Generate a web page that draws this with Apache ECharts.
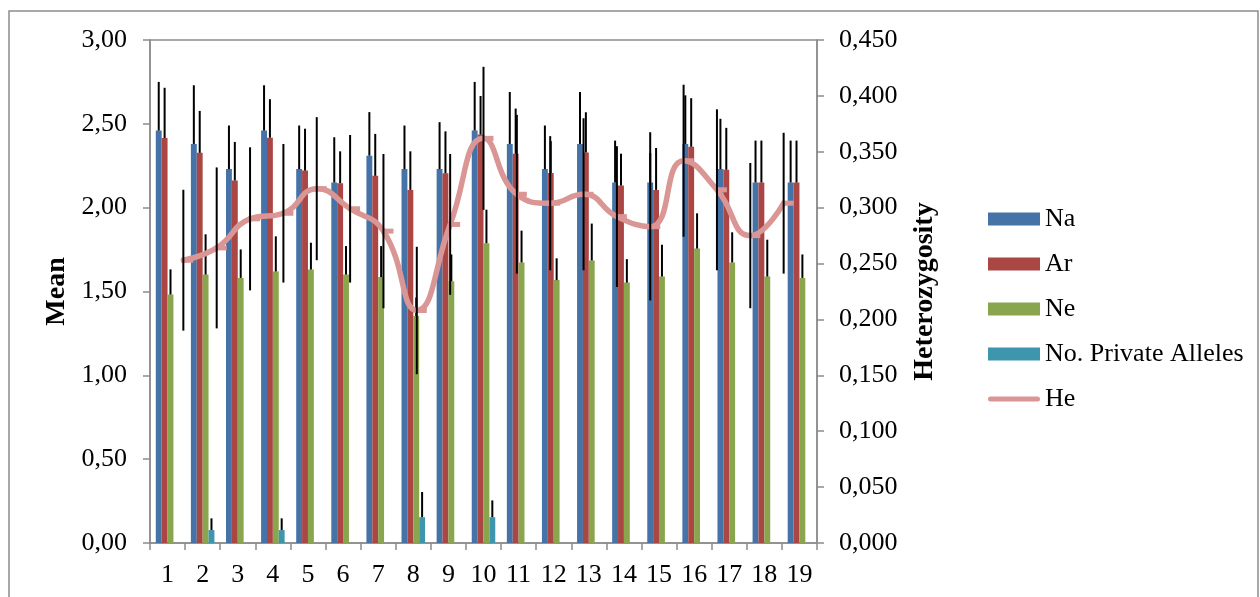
<!DOCTYPE html>
<html>
<head>
<meta charset="utf-8">
<script src="https://cdn.jsdelivr.net/npm/echarts@6.0.0/dist/echarts.min.js"></script>
<style>
  html, body { margin: 0; padding: 0; background: #fff; }
  #chart { width: 1260px; height: 597px; }
</style>
</head>
<body>
<div id="chart"></div>
<script>
// populations 1..19
const categories = ['1', '2', '3', '4', '5', '6', '7', '8', '9', '10', '11', '12', '13', '14', '15', '16', '17', '18', '19'];

const na = [2.46, 2.38, 2.23, 2.46, 2.23, 2.15, 2.31, 2.23, 2.23, 2.46, 2.38, 2.23, 2.38, 2.15, 2.15, 2.38, 2.23, 2.15, 2.15];
const naErr = [0.29, 0.35, 0.26, 0.27, 0.26, 0.27, 0.26, 0.26, 0.28, 0.29, 0.31, 0.26, 0.31, 0.25, 0.30, 0.29, 0.30, 0.25, 0.25];

const ar = [2.415, 2.327, 2.162, 2.417, 2.221, 2.146, 2.19, 2.106, 2.205, 2.436, 2.321, 2.207, 2.329, 2.132, 2.106, 2.363, 2.226, 2.15, 2.15];
const arErr = [0.30, 0.25, 0.23, 0.23, 0.25, 0.19, 0.25, 0.23, 0.25, 0.23, 0.27, 0.19, 0.24, 0.19, 0.25, 0.29, 0.25, 0.25, 0.25];

const ne = [1.482, 1.601, 1.581, 1.619, 1.631, 1.601, 1.586, 1.354, 1.561, 1.788, 1.673, 1.568, 1.685, 1.553, 1.589, 1.756, 1.673, 1.589, 1.581];
const neErr = [0.15, 0.24, 0.17, 0.21, 0.16, 0.17, 0.185, 0.11, 0.16, 0.20, 0.19, 0.13, 0.22, 0.14, 0.19, 0.21, 0.18, 0.22, 0.14];

const pa = [0, 0.077, 0, 0.077, 0, 0, 0, 0.154, 0, 0.154, 0, 0, 0, 0, 0, 0, 0, 0, 0];
const paErr = [0, 0.07, 0, 0.07, 0, 0, 0, 0.15, 0, 0.10, 0, 0, 0, 0, 0, 0, 0, 0, 0];

const he = [0.253, 0.264, 0.290, 0.295, 0.317, 0.299, 0.279, 0.208, 0.285, 0.362, 0.312, 0.304, 0.312, 0.292, 0.283, 0.342, 0.316, 0.275, 0.304];
const heErr = [0.063, 0.072, 0.064, 0.062, 0.064, 0.066, 0.069, 0.057, 0.063, 0.064, 0.071, 0.060, 0.068, 0.063, 0.066, 0.068, 0.072, 0.065, 0.063];

const leftTicks = [0, 3, 0.5];      // min, max, interval
const rightTicks = [0, 0.45, 0.05];

const FONT = 'Liberation Serif';
const AXIS_GREY = '#8c8c8c';
const CAT_GAP = 0.33;
const colors = ['#4572A7', '#AA4643', '#89A54E', '#3D96AE'];

let chart = undefined

// black plus error bars sitting on each bar
function barErrorItem(params, api) {
  const cat = api.value(0)
  const val = api.value(1)
  const err = api.value(2)
  const j = api.value(3)
  const base = api.coord([cat, val])
  const top = api.coord([cat, val + err])
  const band = api.size([1, 0])[0]
  const group = band * (1 - CAT_GAP)
  const barW = group / 4
  const x = base[0] - group / 2 + barW * (j + 0.5)
  return {
    type: 'line',
    shape: {x1: x, y1: base[1], x2: x, y2: top[1]},
    style: {stroke: '#000', lineWidth: 2}
  }
}

// symmetric error bars for He
function heErrorItem(params, api) {
  const x = api.value(0)
  const val = api.value(1)
  const err = api.value(2)
  const lo = api.coord([x, val - err])
  const hi = api.coord([x, val + err])
  return {
    type: 'line',
    shape: {x1: lo[0], y1: lo[1], x2: hi[0], y2: hi[1]},
    style: {stroke: '#000', lineWidth: 2}
  }
}

function initChart() {
  chart = echarts.init(document.getElementById('chart'), null, {renderer: 'canvas'});

  const barSets = [[na, naErr], [ar, arErr], [ne, neErr], [pa, paErr]]
  const errData = []
  barSets.forEach(([vals, errs], j) => {
    vals.forEach((v, i) => {
      if (errs[i] > 0) errData.push([i, v, errs[i], j])
    })
  })

  const heLine = he.map((v, i) => [i + 1, v])
  const heErrData = he.map((v, i) => [i + 1, v, heErr[i]])

  const tickLabel = {fontFamily: FONT, fontSize: 26, color: '#000'}
  const nameStyle = {fontFamily: FONT, fontSize: 28, fontWeight: 'bold', color: '#000'}

  const barSeries = (name, data, k) => ({
    name: name,
    type: 'bar',
    data: data,
    barGap: '0%',
    barCategoryGap: (CAT_GAP * 100) + '%',
    itemStyle: {color: colors[k]},
    z: 2
  })

  const option = {
    animation: false,
    backgroundColor: '#fff',
    graphic: [{
      type: 'rect',
      shape: {x: 9, y: 11, width: 1249, height: 600},
      style: {fill: 'none', stroke: AXIS_GREY, lineWidth: 1.5},
      silent: true
    }],
    legend: {
      orient: 'vertical',
      left: 983,
      top: 199,
      itemWidth: 52,
      itemHeight: 13,
      itemGap: 15,
      textStyle: {fontFamily: FONT, fontSize: 26, color: '#000', lineHeight: 30},
      data: [
        {name: 'Na', icon: 'rect'},
        {name: 'Ar', icon: 'rect'},
        {name: 'Ne', icon: 'rect'},
        {name: 'No. Private Alleles', icon: 'rect'},
        {name: 'He', icon: 'path://M2.5,0 h47 a2.5,2.5 0 0 1 0,5 h-47 a2.5,2.5 0 0 1 0,-5z'}
      ]
    },
    grid: {
      left: 150,
      right: 443,
      top: 40,
      bottom: 54,
      show: true,
      borderColor: AXIS_GREY,
      borderWidth: 1.5,
      backgroundColor: 'transparent'
    },
    xAxis: [
      {
        type: 'category',
        data: categories,
        axisLine: {show: true, lineStyle: {color: AXIS_GREY, width: 1.5}},
        axisTick: {show: true, interval: 0, length: 7, lineStyle: {color: AXIS_GREY, width: 1.5}},
        axisLabel: Object.assign({interval: 0, margin: 19}, tickLabel),
        splitLine: {show: false}
      },
      {
        type: 'value',
        min: 0,
        max: 20,
        show: false
      }
    ],
    yAxis: [
      {
        type: 'value',
        min: leftTicks[0],
        max: leftTicks[1],
        interval: leftTicks[2],
        name: 'Mean',
        nameLocation: 'middle',
        nameGap: 76,
        nameTextStyle: nameStyle,
        axisLine: {show: true, lineStyle: {color: AXIS_GREY, width: 1.5}},
        axisTick: {show: true, length: 7, lineStyle: {color: AXIS_GREY, width: 1.5}},
        axisLabel: Object.assign({margin: 23, formatter: v => v.toFixed(2).replace('.', ',')}, tickLabel),
        splitLine: {show: false}
      },
      {
        type: 'value',
        position: 'right',
        min: rightTicks[0],
        max: rightTicks[1],
        interval: rightTicks[2],
        name: 'Heterozygosity',
        nameLocation: 'middle',
        nameRotate: 90,
        nameGap: 94,
        nameTextStyle: nameStyle,
        axisLine: {show: true, lineStyle: {color: AXIS_GREY, width: 1.5}},
        axisTick: {show: true, length: 7, lineStyle: {color: AXIS_GREY, width: 1.5}},
        axisLabel: Object.assign({margin: 22, formatter: v => v.toFixed(3).replace('.', ',')}, tickLabel),
        splitLine: {show: false}
      }
    ],
    series: [
      barSeries('Na', na, 0),
      barSeries('Ar', ar, 1),
      barSeries('Ne', ne, 2),
      barSeries('No. Private Alleles', pa, 3),
      {
        name: 'barErrors',
        type: 'custom',
        renderItem: barErrorItem,
        data: errData,
        encode: {x: 0, y: [1, 2]},
        z: 3,
        silent: true
      },
      {
        name: 'He',
        type: 'line',
        xAxisIndex: 1,
        yAxisIndex: 1,
        data: heLine,
        smooth: 0.5,
        symbol: 'rect',
        symbolSize: [12, 5],
        symbolOffset: [4, 0],
        showAllSymbol: true,
        itemStyle: {color: '#D99694'},
        lineStyle: {color: '#D99694', width: 5.5, cap: 'round', join: 'round'},
        z: 4
      },
      {
        name: 'heErrors',
        type: 'custom',
        xAxisIndex: 1,
        yAxisIndex: 1,
        renderItem: heErrorItem,
        data: heErrData,
        encode: {x: 0, y: [1, 2]},
        z: 5,
        silent: true
      }
    ]
  };

  chart.setOption(option);
}

initChart();
</script>
</body>
</html>
